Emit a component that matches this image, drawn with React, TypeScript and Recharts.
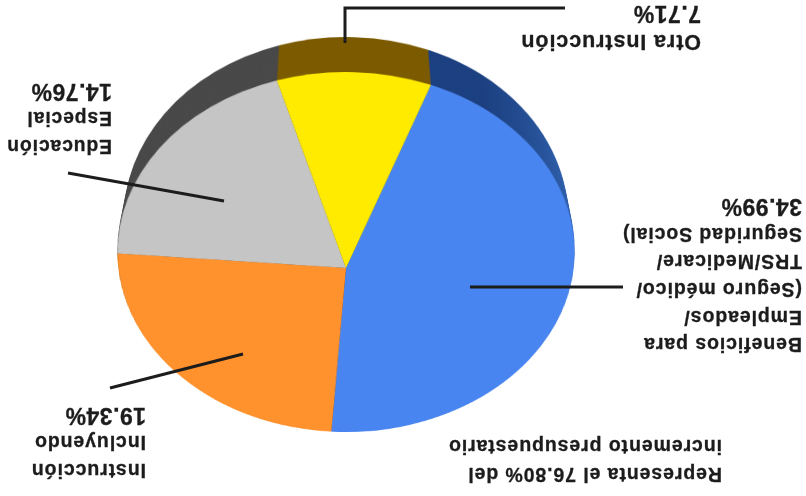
import React from "react";
import { PieChart, Pie, Cell } from "recharts";

const categorias = [
  "Beneficios para Empleados",
  "Instrucción Incluyendo",
  "Educación Especial",
  "Otra Instrucción",
];
const porcentajes = [34.99, 19.34, 14.76, 7.71];
const coloresCara = ["#4985f0", "#ff922d", "#c5c5c5", "#ffeb00"];
const coloresBorde = ["url(#bordeAzul)", "#7a3f00", "#484848", "#7b5a00"];

const data = categorias.map((name, i) => ({ name, value: porcentajes[i] }));

const W = 806;
const H = 496;
const RADIO = 228;
const TAM = 480;
const ALTO_BORDE = 35;

// el pastel esta en perspectiva: centro desplazado respecto a la elipse
function matriz(sx: number, sy: number, p: number) {
  return `matrix3d(${sx},0,0,0, 0,${sy},0,${p / RADIO}, 0,0,1,0, 0,0,0,1)`;
}

function Capa({ cx, cy, sx, sy, colores }: any) {
  return (
    <div
      style={{
        position: "absolute",
        left: cx - TAM / 2,
        top: cy - TAM / 2,
        width: TAM,
        height: TAM,
        transformOrigin: "50% 50%",
        transform: matriz(sx, sy, 0.0889),
      }}
    >
      <PieChart width={TAM} height={TAM} margin={{ top: 0, right: 0, bottom: 0, left: 0 }}>
        <defs>
          <linearGradient id="bordeAzul" x1="0" y1="0" x2="1" y2="0.5">
            <stop offset="0.5" stopColor="#1b3f80" />
            <stop offset="0.95" stopColor="#2f62b0" />
          </linearGradient>
        </defs>
        <Pie
          data={data}
          dataKey="value"
          nameKey="name"
          cx="50%"
          cy="50%"
          outerRadius={RADIO}
          startAngle={70}
          endAngle={-290}
          stroke="none"
          isAnimationActive={false}
        >
          {data.map((d, i) => (
            <Cell key={d.name} fill={colores[i]} />
          ))}
        </Pie>
      </PieChart>
    </div>
  );
}

// texto en coordenadas sin girar (la capa entera va a 180 grados)
const etiquetas = [
  { x: 105, y: 441, size: 21.5, lineas: ["Otra Instrucción"], pct: "7.71%" },
  { x: 694, y: 336, size: 19.3, lineas: ["Educación", "Especial"], pct: "14.76%" },
  { x: 4, y: 137.5, size: 19.5, lineas: ["Beneficios para", "Empleados/", "(Seguro médico/", "TRS/Medicare/", "Seguridad Social)"], pct: "34.99%" },
  { x: 660, y: 12, size: 19.5, lineas: ["Instrucción", "Incluyendo"], pct: "19.34%" },
  { x: 84, y: 8, size: 19.5, lineas: ["Representa el 76.80% del", "incremento presupuestario"], pct: "" },
];

const guias = [
  "345,43 345,8 565,8",
  "224,201 68,173",
  "243,354 110,388",
  "470,287 623,287",
];

// capas apiladas para el canto del pastel, de atras hacia delante
const capasBorde = Array.from({ length: ALTO_BORDE }, (_, i) => ALTO_BORDE - i);

export default function App() {
  return (
    <div
      style={{
        position: "absolute",
        left: 0,
        top: 0,
        width: W,
        height: H,
        overflow: "hidden",
        background: "#fff",
      }}
    >
      {capasBorde.map((dy) => (
        <Capa
          key={dy}
          cx={345.5}
          cy={268 - dy}
          sx={(227.6 - (dy / ALTO_BORDE) * 7) / RADIO}
          sy={178.6 / RADIO}
          colores={coloresBorde}
        />
      ))}
      <Capa cx={345.5} cy={268} sx={227.6 / RADIO} sy={178.6 / RADIO} colores={coloresCara} />

      <svg width={W} height={H} style={{ position: "absolute", left: 0, top: 0 }}>
        {guias.map((g) => (
          <polyline key={g} points={g} fill="none" stroke="#1c1c1c" strokeWidth={3} />
        ))}
      </svg>

      <div
        style={{
          position: "absolute",
          left: 0,
          top: 0,
          width: W,
          height: H,
          transform: "rotate(180deg)",
          fontFamily: "'Liberation Sans', Arial, sans-serif",
          fontWeight: 700,
          color: "#1c1c1c",
          WebkitTextStroke: "0.3px #1c1c1c",
        }}
      >
        {etiquetas.map((e) => (
          <div key={e.lineas[0]} style={{ position: "absolute", left: e.x, top: e.y, whiteSpace: "nowrap" }}>
            {e.lineas.map((l) => (
              <div key={l} style={{ fontSize: e.size, lineHeight: "27.7px", letterSpacing: 0.9 }}>
                {l}
              </div>
            ))}
            {e.pct && (
              <div style={{ fontSize: 23, lineHeight: "27.7px", letterSpacing: 0.5 }}>{e.pct}</div>
            )}
          </div>
        ))}
      </div>
    </div>
  );
}
